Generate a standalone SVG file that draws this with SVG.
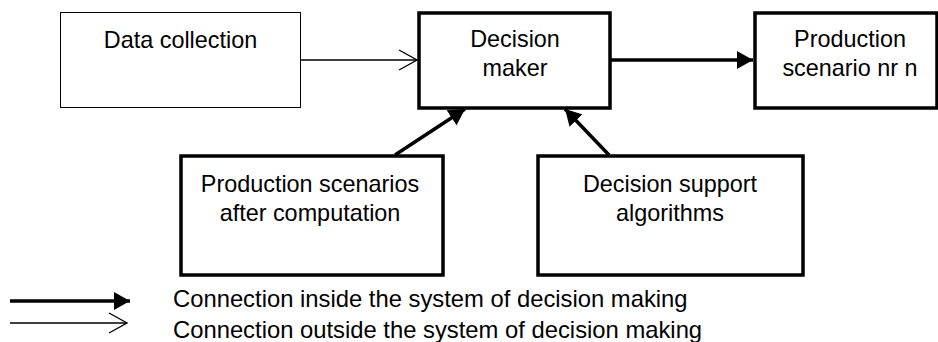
<svg xmlns="http://www.w3.org/2000/svg" width="938" height="342" viewBox="0 0 938 342">
<defs>
<style>
text{font-family:"Liberation Sans",Arial,sans-serif;font-size:23.4px;fill:#000}
.c{text-anchor:middle}
.lg{font-size:23.8px}
.thin{fill:#fff;stroke:#000;stroke-width:1}
.thick{fill:#fff;stroke:#000;stroke-width:3.5}
.ln{stroke:#000;fill:none}
</style>
<marker id="open" viewBox="0 0 20 22" refX="19" refY="11" markerWidth="20" markerHeight="22" markerUnits="userSpaceOnUse" orient="auto">
<path d="M1,1 L19,11 L1,21" fill="none" stroke="#000" stroke-width="1.3"/>
</marker>
<marker id="solid" viewBox="0 0 16 18" refX="16" refY="9" markerWidth="16" markerHeight="18" markerUnits="userSpaceOnUse" orient="auto">
<path d="M0,0 L16,9 L0,18 Z" fill="#000"/>
</marker>
</defs>
<rect width="938" height="342" fill="#fff"/>
<g id="n-data">
<rect class="thin" x="60.5" y="12.5" width="240" height="95"/>
<text class="c" x="180.5" y="48">Data collection</text>
</g>
<g id="n-dm">
<rect class="thick" x="419" y="13" width="191" height="95"/>
<text class="c" x="515" y="47">Decision</text>
<text class="c" x="515" y="76">maker</text>
</g>
<g id="n-ps">
<rect class="thick" x="755" y="13" width="182" height="95"/>
<text class="c" x="850" y="47">Production</text>
<text class="c" x="850" y="76">scenario nr n</text>
</g>
<g id="n-psc">
<rect class="thick" x="181" y="156" width="262" height="119"/>
<text class="c" x="310" y="192">Production scenarios</text>
<text class="c" x="310" y="221">after computation</text>
</g>
<g id="n-dsa">
<rect class="thick" x="538" y="156" width="265" height="119"/>
<text class="c" x="670" y="192">Decision support</text>
<text class="c" x="670" y="221">algorithms</text>
</g>
<g id="connectors">
<line class="ln" x1="301" y1="60" x2="417" y2="60" stroke-width="1.3" marker-end="url(#open)"/>
<line class="ln" x1="610" y1="60" x2="753" y2="60" stroke-width="3.5" marker-end="url(#solid)"/>
<line class="ln" x1="395" y1="155" x2="465" y2="109" stroke-width="3.5" marker-end="url(#solid)"/>
<line class="ln" x1="609" y1="155" x2="565" y2="109" stroke-width="3.5" marker-end="url(#solid)"/>
</g>
<g id="legend">
<line class="ln" x1="10" y1="301" x2="130" y2="301" stroke-width="3.5" marker-end="url(#solid)"/>
<line class="ln" x1="10" y1="323" x2="127" y2="323" stroke-width="1.3" marker-end="url(#open)"/>
<text class="lg" x="173" y="307">Connection inside the system of decision making</text>
<text class="lg" x="173" y="338">Connection outside the system of decision making</text>
</g>
</svg>
